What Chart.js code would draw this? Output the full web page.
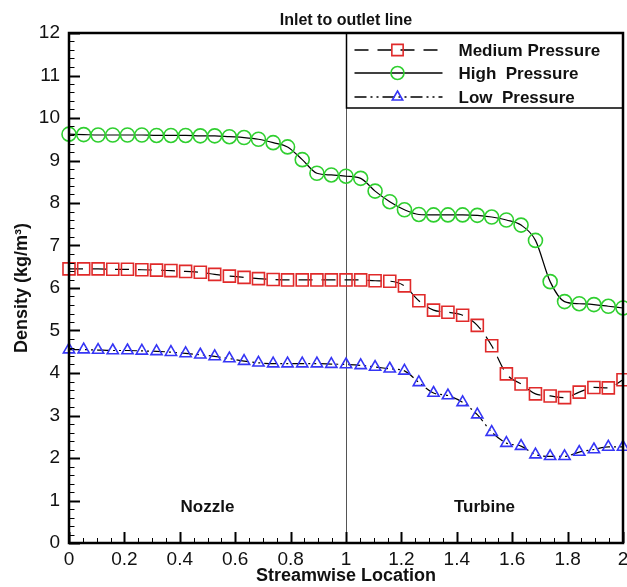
<!DOCTYPE html>
<html>
<head>
<meta charset="utf-8">
<title>Density along inlet to outlet line</title>
<script src="https://cdn.jsdelivr.net/npm/chart.js@4.4.0/dist/chart.umd.min.js"></script>
<style>
  body { margin: 0; background: #fff; }
  canvas { display: block; }
</style>
</head>
<body>
<canvas id="densityChart" width="627" height="587"></canvas>
<script>
// Streamwise sample locations (same for all three runs)
const locations = [0, 0.053, 0.105, 0.158, 0.211, 0.263, 0.316, 0.368, 0.421, 0.474,
    0.526, 0.579, 0.632, 0.684, 0.737, 0.789, 0.842, 0.895, 0.947, 1,
    1.053, 1.105, 1.158, 1.211, 1.263, 1.316, 1.368, 1.421, 1.474, 1.526,
    1.579, 1.632, 1.684, 1.737, 1.789, 1.842, 1.895, 1.947, 2];

// Density values (kg/m3)
const mediumPressure = [6.45, 6.45, 6.45, 6.44, 6.44, 6.43, 6.42, 6.41, 6.39, 6.37,
    6.32, 6.28, 6.25, 6.22, 6.20, 6.19, 6.19, 6.19, 6.19, 6.19,
    6.19, 6.17, 6.16, 6.05, 5.70, 5.48, 5.43, 5.36, 5.12, 4.64,
    3.98, 3.74, 3.51, 3.46, 3.42, 3.55, 3.66, 3.65, 3.84];

const highPressure = [9.62, 9.61, 9.60, 9.60, 9.60, 9.60, 9.59, 9.59, 9.59, 9.58,
    9.58, 9.56, 9.54, 9.50, 9.42, 9.32, 9.02, 8.70, 8.66, 8.63,
    8.58, 8.28, 8.03, 7.84, 7.73, 7.72, 7.72, 7.72, 7.71, 7.67,
    7.60, 7.48, 7.12, 6.15, 5.68, 5.63, 5.61, 5.57, 5.53];

const lowPressure = [4.55, 4.55, 4.54, 4.53, 4.53, 4.52, 4.51, 4.49, 4.46, 4.43,
    4.39, 4.34, 4.28, 4.24, 4.22, 4.22, 4.22, 4.22, 4.21, 4.20,
    4.18, 4.14, 4.10, 4.05, 3.78, 3.53, 3.47, 3.31, 3.02, 2.61,
    2.35, 2.28, 2.08, 2.04, 2.04, 2.14, 2.20, 2.26, 2.26];

const seriesNames = ['Medium Pressure', 'High  Pressure', 'Low  Pressure'];
const regionNames = ['Nozzle', 'Turbine'];

const FONT = "'Liberation Sans', Arial, sans-serif";

function toPoints(values) {
    return values.map((v, i) => ({ x: locations[i], y: v }));
}

// hollow marker, used for the hand-drawn legend
function drawMarker(ctx, style, r, x, y) {
    ctx.beginPath();
    if (style === 'rect') {
        const s = r * Math.SQRT1_2;
        ctx.rect(x - s, y - s, 2 * s, 2 * s);
    } else if (style === 'triangle') {
        for (let k = 0; k < 3; k++) {
            const a = k * 2 * Math.PI / 3;
            const px = x + Math.sin(a) * r, py = y - Math.cos(a) * r;
            if (k === 0) ctx.moveTo(px, py); else ctx.lineTo(px, py);
        }
        ctx.closePath();
    } else {
        ctx.arc(x, y, r, 0, Math.PI * 2);
    }
    ctx.stroke();
}

const decorations = {
    id: 'decorations',
    beforeDatasetsDraw(chart) {
        const { ctx, chartArea: a, scales: { x } } = chart;
        const xm = Math.round(x.getPixelForValue(1)) + 0.5;
        ctx.save();
        ctx.strokeStyle = '#555';
        ctx.lineWidth = 1;
        ctx.beginPath();
        ctx.moveTo(xm, a.top);
        ctx.lineTo(xm, a.bottom);
        ctx.stroke();
        ctx.restore();
    },
    afterDatasetsDraw(chart) {
        const { ctx, chartArea: a, scales: { x, y } } = chart;
        ctx.save();

        // inward ticks on left and bottom axes
        ctx.strokeStyle = '#000';
        for (let i = 0; i <= 60; i++) {
            const major = i % 5 === 0;
            const py = Math.round(y.getPixelForValue(i * 0.2)) + 0.5;
            ctx.lineWidth = major ? 2 : 1;
            ctx.beginPath();
            ctx.moveTo(a.left, py);
            ctx.lineTo(a.left + (major ? 11 : 5.5), py);
            ctx.stroke();
        }
        for (let i = 0; i <= 40; i++) {
            const major = i % 4 === 0;
            const px = Math.round(x.getPixelForValue(i * 0.05)) + 0.5;
            ctx.lineWidth = major ? 2 : 1;
            ctx.beginPath();
            ctx.moveTo(px, a.bottom);
            ctx.lineTo(px, a.bottom - (major ? 11 : 5));
            ctx.stroke();
        }

        // region labels
        ctx.fillStyle = '#111';
        ctx.font = 'bold 17px ' + FONT;
        ctx.textAlign = 'center';
        ctx.textBaseline = 'middle';
        ctx.fillText(regionNames[0], x.getPixelForValue(0.5), y.getPixelForValue(0.85));
        ctx.fillText(regionNames[1], x.getPixelForValue(1.5), y.getPixelForValue(0.85));

        // legend box, anchored to the top-right corner of the plot
        const lx = Math.round(x.getPixelForValue(1)) + 0.5;
        ctx.fillStyle = '#fff';
        ctx.fillRect(lx, a.top, a.right - lx, 75);
        ctx.lineWidth = 1.5;
        ctx.strokeStyle = '#000';
        ctx.strokeRect(lx, a.top, a.right - lx, 75);

        const rows = [50, 73, 97];
        chart.data.datasets.forEach((ds, i) => {
            const ry = rows[i];
            ctx.strokeStyle = '#000';
            ctx.lineWidth = 1.3;
            ctx.setLineDash(ds.borderDash || []);
            ctx.beginPath();
            ctx.moveTo(lx + 8, ry);
            ctx.lineTo(lx + 96, ry);
            ctx.stroke();
            ctx.setLineDash([]);
            ctx.strokeStyle = ds.pointBorderColor;
            ctx.lineWidth = ds.pointBorderWidth;
            drawMarker(ctx, ds.pointStyle, ds.pointRadius - 0.5, lx + 51, ry);
            ctx.fillStyle = '#111';
            ctx.font = 'bold 17px ' + FONT;
            ctx.textAlign = 'left';
            ctx.fillText(ds.label, lx + 112, ry + 1);
        });

        // frame
        ctx.strokeStyle = '#000';
        ctx.lineWidth = 2.5;
        ctx.strokeRect(a.left, a.top, a.right - a.left, a.bottom - a.top);

        // top title
        ctx.fillStyle = '#111';
        ctx.font = 'bold 16px ' + FONT;
        ctx.textAlign = 'center';
        ctx.fillText('Inlet to outlet line', (a.left + a.right) / 2, 21);
        ctx.restore();
    }
};

const lineBase = {
    borderColor: '#000',
    borderWidth: 1.2,
    cubicInterpolationMode: 'monotone',
    pointBackgroundColor: 'rgba(0,0,0,0)',
    pointBorderWidth: 1.6,
    clip: 12
};

new Chart(document.getElementById('densityChart'), {
    type: 'line',
    data: {
        datasets: [
            Object.assign({}, lineBase, {
                label: seriesNames[0],
                data: toPoints(mediumPressure),
                borderDash: [14, 9],
                pointStyle: 'rect',
                pointRadius: 8.5,
                pointBorderColor: '#e02a2a'
            }),
            Object.assign({}, lineBase, {
                label: seriesNames[1],
                data: toPoints(highPressure),
                pointStyle: 'circle',
                pointRadius: 7,
                pointBorderColor: '#2fcf2f'
            }),
            Object.assign({}, lineBase, {
                label: seriesNames[2],
                data: toPoints(lowPressure),
                borderDash: [12, 4, 2, 4, 2, 4],
                pointStyle: 'triangle',
                pointRadius: 6.5,
                pointBorderColor: '#3535f5'
            })
        ]
    },
    options: {
        responsive: false,
        animation: false,
        layout: { autoPadding: false, padding: { top: 33, right: 4, left: 11, bottom: 0 } },
        plugins: {
            legend: { display: false },
            tooltip: { enabled: false }
        },
        scales: {
            x: {
                type: 'linear',
                min: 0,
                max: 2,
                grid: { display: false, drawTicks: false },
                border: { display: false },
                ticks: {
                    stepSize: 0.2,
                    padding: 5,
                    color: '#111',
                    font: { family: FONT, size: 19 },
                    maxRotation: 0,
                    callback: v => String(Number(v.toFixed(1)))
                },
                title: {
                    display: true,
                    text: 'Streamwise Location',
                    color: '#111',
                    font: { family: FONT, size: 18, weight: 'bold' },
                    padding: { top: 0, bottom: 0 }
                },
                afterFit: s => {
                    s.height = 44;
                    s.paddingLeft = 0;
                    s.paddingRight = 0;
                }
            },
            y: {
                min: 0,
                max: 12,
                grid: { display: false, drawTicks: false },
                border: { display: false },
                ticks: {
                    stepSize: 1,
                    padding: 9,
                    color: '#111',
                    font: { family: FONT, size: 19 }
                },
                title: {
                    display: true,
                    text: 'Density (kg/m³)',
                    color: '#111',
                    font: { family: FONT, size: 18, weight: 'bold' },
                    padding: { top: 0, bottom: 0 }
                },
                afterFit: s => {
                    s.width = 58;
                    s.paddingTop = 0;
                    s.paddingBottom = 0;
                }
            }
        }
    },
    plugins: [decorations]
});
</script>
</body>
</html>
